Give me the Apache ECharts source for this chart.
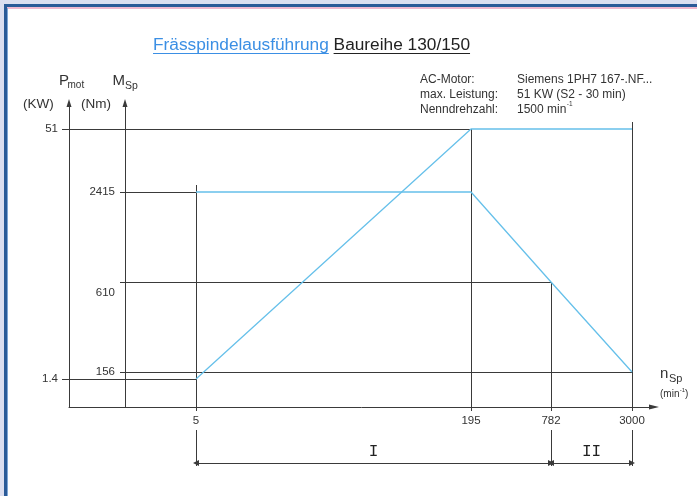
<!DOCTYPE html>
<html>
<head>
<meta charset="utf-8">
<script src="https://cdn.jsdelivr.net/npm/echarts@6/dist/echarts.min.js"></script>
<style>
html,body{margin:0;padding:0;background:#fff;}
#c{width:697px;height:496px;}
</style>
</head>
<body>
<div id="c"></div>
<script>
// ---------------- data ----------------
const speedTicks  = [5, 195, 782, 3000];      // n_Sp (min^-1)
const powerTicks  = [1.4, 51];                // P_mot (KW)
const torqueTicks = [156, 610, 2415];         // M_Sp (Nm)

const speed  = [5, 195, 782, 3000];
const power  = [1.4, 51, 51, 51];
const torque = [2415, 2415, 610, 156];

const rangeNames  = ['I', 'II'];
const rangeBounds = [[5, 782], [782, 3000]];

// guide lines of the diagram (real values)
const guideP = [{level: 51, until: 195}, {level: 1.4, until: 5}];
const guideM = [{level: 2415, until: 5}, {level: 610, until: 782}, {level: 156, until: 3000}];
const guideV = [
  {at: 5,    axis: 'M', level: 2415, ext: 7},
  {at: 195,  axis: 'P', level: 51,   ext: 0},
  {at: 782,  axis: 'M', level: 610,  ext: 0},
  {at: 3000, axis: 'P', level: 51,   ext: 7}
];

// ---------------- schematic (non-linear) scales: value -> axis unit ----------------
const X_SCALE = {v: [0, 5, 195, 782, 3000], u: [0, 127, 402, 482, 563]};
const P_SCALE = {v: [1.4, 51], u: [28, 278]};
const M_SCALE = {v: [156, 610, 2415], u: [35, 125, 215]};
const M_AXIS_U = 56;       // position of the torque axis on the x scale
const X_MAX = 585, Y_MAX = 304;

function mapScale(s, val) {
  const v = s.v, u = s.u;
  let i = 0;
  while (i < v.length - 2 && val > v[i + 1]) i++;
  return u[i] + (val - v[i]) * (u[i + 1] - u[i]) / (v[i + 1] - v[i]);
}
const sx = v => mapScale(X_SCALE, v);
const py = v => mapScale(P_SCALE, v);
const my = v => mapScale(M_SCALE, v);

function lookup(ticks, fn, u) {
  for (const t of ticks) if (Math.abs(fn(t) - u) < 0.01) return t;
  return null;
}

// ---------------- text measuring ----------------
const mctx = document.createElement('canvas').getContext('2d');
function tw(text, font) { mctx.font = font; return mctx.measureText(text).width; }

const FONT = '"Liberation Sans", Arial, Helvetica, sans-serif';
const LINE = '#3a3a3a';
const BLUE = '#66c0ea';
const TXT = '#333333';

const chart = echarts.init(document.getElementById('c'), null, {renderer: 'canvas'});

// title pieces
const T_SIZE = 17.3;
const tFont = T_SIZE + 'px ' + FONT;
const t1 = 'Frässpindelausführung', t2 = 'Baureihe 130/150';
const tx0 = 153, ty = 45;
const w1 = tw(t1, tFont), wsp = tw(' ', tFont), w2 = tw(t2, tFont);

const I_SIZE = 12;
const iFont = I_SIZE + 'px ' + FONT;
const rpmText = '1500 min';
const rpmW = tw(rpmText, iFont);

function txt(x, y, text, size, color, extra) {
  return {
    type: 'text', x: x, y: y, silent: true,
    style: Object.assign({
      text: text, fill: color || TXT, font: size + 'px ' + FONT,
      align: 'left', textAlign: 'left', verticalAlign: 'middle', textVerticalAlign: 'middle'
    }, extra || {})
  };
}

const graphics = [
  // frame
  {type: 'rect', shape: {x: 0, y: 0, width: 697, height: 4}, style: {fill: '#dcdff0'}, silent: true},
  {type: 'rect', shape: {x: 0, y: 0, width: 4, height: 496}, style: {fill: '#dcdff0'}, silent: true},
  {type: 'rect', shape: {x: 4, y: 4, width: 693, height: 3}, style: {fill: '#2b5b98'}, silent: true},
  {type: 'rect', shape: {x: 4, y: 4, width: 3, height: 492}, style: {fill: '#2b5b98'}, silent: true},
  {type: 'line', shape: {x1: 7, y1: 8, x2: 697, y2: 8}, style: {stroke: '#e2729f', lineWidth: 1}, silent: true},
  {type: 'line', shape: {x1: 7.5, y1: 8, x2: 7.5, y2: 496}, style: {stroke: '#7ea6d6', lineWidth: 1}, silent: true},
  // title
  txt(tx0, ty, t1, T_SIZE, '#3b8fe4'),
  txt(tx0 + w1 + wsp, ty, t2, T_SIZE, '#222'),
  {type: 'line', shape: {x1: tx0, y1: 53.5, x2: tx0 + w1, y2: 53.5}, style: {stroke: '#3b8fe4', lineWidth: 1}, silent: true},
  {type: 'line', shape: {x1: tx0 + w1 + wsp, y1: 53.5, x2: tx0 + w1 + wsp + w2, y2: 53.5}, style: {stroke: '#222', lineWidth: 1}, silent: true},
  // motor info
  txt(420, 80, 'AC-Motor:', I_SIZE),
  txt(420, 95, 'max. Leistung:', I_SIZE),
  txt(420, 109.5, 'Nenndrehzahl:', I_SIZE),
  txt(517, 80, 'Siemens 1PH7 167-.NF...', I_SIZE),
  txt(517, 95, '51 KW (S2 - 30 min)', I_SIZE),
  txt(517, 109.5, rpmText, I_SIZE),
  txt(517 + rpmW + 0.5, 104.5, '-1', 6.5),
  // axis names
  txt(59, 80.5, 'P', 15),
  txt(67.5, 85, 'mot', 10),
  txt(112.5, 80.5, 'M', 15),
  txt(125, 86, 'Sp', 10.5),
  txt(23, 104, '(KW)', 13.5),
  txt(81, 104, '(Nm)', 13.5),
  txt(660, 374, 'n', 15),
  txt(669, 379, 'Sp', 11),
  txt(660, 394, '(min', 10),
  txt(660 + tw('(min', '10px ' + FONT) + 0.3, 390.5, '-1', 6),
  txt(660 + tw('(min', '10px ' + FONT) + 5.5, 394, ')', 10)
];

const labelStyle = {color: TXT, fontSize: 11.5, fontFamily: FONT};

const option = {
  animation: false,
  backgroundColor: '#ffffff',
  grid: {left: 69, top: 103, width: X_MAX, height: Y_MAX, containLabel: false},
  xAxis: {
    type: 'value', min: 0, max: X_MAX,
    axisLine: {show: true, lineStyle: {color: LINE, width: 1}, symbol: ['none', 'triangle'], symbolSize: [5, 10]},
    axisTick: {show: true, customValues: speedTicks.map(sx), length: 4, lineStyle: {color: LINE}},
    axisLabel: Object.assign({customValues: speedTicks.map(sx), margin: 8,
      formatter: u => { const t = lookup(speedTicks, sx, u); return t === null ? '' : String(t); }}, labelStyle),
    splitLine: {show: false}
  },
  yAxis: [
    {
      type: 'value', min: 0, max: Y_MAX, position: 'left', offset: 0,
      axisLine: {show: true, lineStyle: {color: LINE, width: 1}, symbol: ['none', 'triangle'], symbolSize: [5, 8]},
      axisTick: {show: true, customValues: powerTicks.map(py), length: 7, lineStyle: {color: LINE}},
      axisLabel: Object.assign({customValues: powerTicks.map(py), margin: 11,
        formatter: u => { const t = lookup(powerTicks, py, u); return t === null ? '' : String(t); }}, labelStyle),
      splitLine: {show: false}
    },
    {
      type: 'value', min: 0, max: Y_MAX, position: 'left', offset: -M_AXIS_U,
      axisLine: {show: true, lineStyle: {color: LINE, width: 1}, symbol: ['none', 'triangle'], symbolSize: [5, 8]},
      axisTick: {show: true, customValues: torqueTicks.map(my), length: 5, lineStyle: {color: LINE}},
      axisLabel: Object.assign({customValues: torqueTicks.map(my), margin: 10,
        formatter: u => { const t = lookup(torqueTicks, my, u); if (t === null) return ''; return t === 610 ? '{low|610}' : String(t); },
        rich: {low: {padding: [22, 0, 0, 0], fontSize: 11.5, color: TXT, fontFamily: FONT}}}, labelStyle),
      splitLine: {show: false}
    }
  ],
  series: [
    { // power guides
      type: 'lines', coordinateSystem: 'cartesian2d', xAxisIndex: 0, yAxisIndex: 0, silent: true, clip: false,
      lineStyle: {color: LINE, width: 1, opacity: 1}, symbol: 'none',
      data: guideP.map(g => ({coords: [[0, py(g.level)], [sx(g.until), py(g.level)]]}))
    },
    { // torque guides
      type: 'lines', coordinateSystem: 'cartesian2d', xAxisIndex: 0, yAxisIndex: 1, silent: true, clip: false,
      lineStyle: {color: LINE, width: 1, opacity: 1}, symbol: 'none',
      data: guideM.map(g => ({coords: [[M_AXIS_U, my(g.level)], [sx(g.until), my(g.level)]]}))
    },
    { // vertical guides
      type: 'lines', coordinateSystem: 'cartesian2d', xAxisIndex: 0, yAxisIndex: 0, silent: true, clip: false,
      lineStyle: {color: LINE, width: 1, opacity: 1}, symbol: 'none',
      data: guideV.map(g => {
        const top = (g.axis === 'P' ? py(g.level) : my(g.level)) + g.ext;
        return {coords: [[sx(g.at), top], [sx(g.at), 0]]};
      })
    },
    { // bracket verticals (below the axis)
      type: 'lines', coordinateSystem: 'cartesian2d', xAxisIndex: 0, yAxisIndex: 0, silent: true, clip: false,
      lineStyle: {color: LINE, width: 1, opacity: 1}, symbol: 'none',
      data: [...new Set(rangeBounds.flat())].map(s => ({coords: [[sx(s), -23], [sx(s), -59]]}))
    },
    { // speed ranges I / II
      type: 'lines', coordinateSystem: 'cartesian2d', xAxisIndex: 0, yAxisIndex: 0, silent: true, clip: false,
      lineStyle: {color: LINE, width: 1, opacity: 1},
      symbol: ['triangle', 'triangle'], symbolSize: 6,
      label: {show: true, position: 'middle', distance: 3, formatter: p => p.name,
        color: '#222', fontSize: 16, fontFamily: '"Liberation Mono", "DejaVu Sans Mono", monospace'},
      data: rangeBounds.map((b, i) => ({name: rangeNames[i], coords: [[sx(b[0]), -56], [sx(b[1]), -56]]}))
    },
    { // motor power
      name: 'P_mot', type: 'line', xAxisIndex: 0, yAxisIndex: 0, showSymbol: false, symbol: 'none', silent: true,
      lineStyle: {color: BLUE, width: 1.3}, z: 5,
      data: speed.map((s, i) => [sx(s), py(power[i])])
    },
    { // spindle torque
      name: 'M_Sp', type: 'line', xAxisIndex: 0, yAxisIndex: 1, showSymbol: false, symbol: 'none', silent: true,
      lineStyle: {color: BLUE, width: 1.3}, z: 5,
      data: speed.map((s, i) => [sx(s), my(torque[i])])
    }
  ],
  graphic: graphics
};
chart.setOption(option);
</script>
</body>
</html>
